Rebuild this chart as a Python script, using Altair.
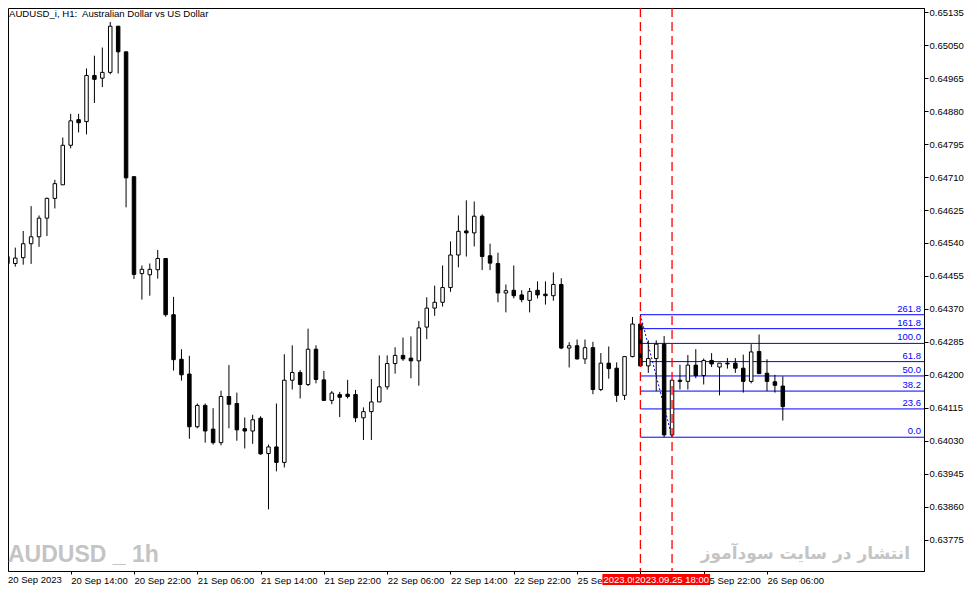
import json
import numpy as np
import pandas as pd
import altair as alt

# AUDUSD H1 candles, bar 0 = 20 Sep 2023 06:00
opens = [
    0.64505, 0.64487, 0.64502, 0.64538, 0.64556, 0.64604, 0.64655, 0.64690, 0.64792, 0.64858,
    0.64853, 0.64972, 0.64965, 0.64980, 0.65099, 0.65033, 0.64711, 0.64461, 0.64458, 0.64471,
    0.64500, 0.64355, 0.64240, 0.64202, 0.64066, 0.64121, 0.64060, 0.64025, 0.64144, 0.64126,
    0.64061, 0.64055, 0.64088, 0.63997, 0.64014, 0.63974, 0.64186, 0.64206, 0.64175, 0.64266,
    0.64187, 0.64134, 0.64149, 0.64150, 0.64149, 0.64089, 0.64105, 0.64130, 0.64169, 0.64229,
    0.64250, 0.64243, 0.64236, 0.64323, 0.64372, 0.64387, 0.64425, 0.64509, 0.64571, 0.64566,
    0.64609, 0.64507, 0.64487, 0.64411, 0.64418, 0.64406, 0.64392, 0.64418, 0.64408, 0.64404,
    0.64433, 0.64269, 0.64275, 0.64241, 0.64270, 0.64162, 0.64230, 0.64217, 0.64147, 0.64247,
    0.64331, 0.64223, 0.64242, 0.64279, 0.64045, 0.64186, 0.64183, 0.64225, 0.64198, 0.64237,
    0.64220, 0.64230, 0.64230, 0.64217, 0.64183, 0.64260, 0.64204, 0.64182, 0.64171,
]
highs = [
    0.64515, 0.64528, 0.64571, 0.64635, 0.64611, 0.64657, 0.64703, 0.64812, 0.64873, 0.64873,
    0.64990, 0.65023, 0.65044, 0.65110, 0.65100, 0.65033, 0.64711, 0.64482, 0.64487, 0.64522,
    0.64500, 0.64401, 0.64266, 0.64249, 0.64126, 0.64126, 0.64114, 0.64159, 0.64225, 0.64154,
    0.64090, 0.64097, 0.64093, 0.64020, 0.64126, 0.64253, 0.64276, 0.64212, 0.64319, 0.64276,
    0.64210, 0.64158, 0.64156, 0.64187, 0.64161, 0.64116, 0.64189, 0.64250, 0.64250, 0.64271,
    0.64296, 0.64299, 0.64339, 0.64400, 0.64430, 0.64482, 0.64544, 0.64611, 0.64650, 0.64647,
    0.64614, 0.64538, 0.64515, 0.64433, 0.64482, 0.64418, 0.64424, 0.64441, 0.64441, 0.64464,
    0.64449, 0.64284, 0.64291, 0.64291, 0.64285, 0.64256, 0.64273, 0.64232, 0.64247, 0.64349,
    0.64355, 0.64289, 0.64289, 0.64300, 0.64186, 0.64226, 0.64251, 0.64266, 0.64242, 0.64256,
    0.64230, 0.64243, 0.64243, 0.64252, 0.64279, 0.64304, 0.64240, 0.64200, 0.64196,
]
lows = [
    0.64479, 0.64479, 0.64484, 0.64486, 0.64530, 0.64558, 0.64629, 0.64690, 0.64784, 0.64825,
    0.64820, 0.64901, 0.64942, 0.64975, 0.64977, 0.64632, 0.64447, 0.64394, 0.64404, 0.64448,
    0.64350, 0.64211, 0.64185, 0.64035, 0.64062, 0.64025, 0.64020, 0.64018, 0.64062, 0.64030,
    0.64010, 0.64022, 0.63994, 0.63853, 0.63951, 0.63961, 0.64162, 0.64139, 0.64171, 0.64178,
    0.64134, 0.64124, 0.64091, 0.64139, 0.64078, 0.64032, 0.64032, 0.64130, 0.64162, 0.64203,
    0.64236, 0.64191, 0.64172, 0.64292, 0.64352, 0.64376, 0.64414, 0.64477, 0.64505, 0.64531,
    0.64470, 0.64470, 0.64387, 0.64361, 0.64397, 0.64387, 0.64361, 0.64397, 0.64381, 0.64391,
    0.64266, 0.64219, 0.64239, 0.64228, 0.64150, 0.64158, 0.64190, 0.64130, 0.64135, 0.64245,
    0.64222, 0.64205, 0.64158, 0.64039, 0.64040, 0.64162, 0.64162, 0.64191, 0.64175, 0.64220,
    0.64147, 0.64216, 0.64205, 0.64154, 0.64178, 0.64203, 0.64158, 0.64154, 0.64082,
]
closes = [
    0.64487, 0.64501, 0.64538, 0.64556, 0.64604, 0.64655, 0.64693, 0.64792, 0.64855, 0.64850,
    0.64972, 0.64962, 0.64980, 0.65099, 0.65033, 0.64708, 0.64459, 0.64472, 0.64472, 0.64500,
    0.64355, 0.64239, 0.64200, 0.64066, 0.64121, 0.64055, 0.64025, 0.64144, 0.64124, 0.64058,
    0.64055, 0.64084, 0.63996, 0.64014, 0.63974, 0.64186, 0.64206, 0.64175, 0.64266, 0.64188,
    0.64134, 0.64153, 0.64142, 0.64144, 0.64089, 0.64105, 0.64130, 0.64169, 0.64229, 0.64250,
    0.64241, 0.64236, 0.64321, 0.64372, 0.64387, 0.64425, 0.64509, 0.64570, 0.64566, 0.64609,
    0.64505, 0.64488, 0.64411, 0.64417, 0.64404, 0.64394, 0.64415, 0.64406, 0.64404, 0.64433,
    0.64269, 0.64275, 0.64241, 0.64270, 0.64162, 0.64230, 0.64216, 0.64147, 0.64247, 0.64331,
    0.64223, 0.64242, 0.64279, 0.64045, 0.64186, 0.64183, 0.64225, 0.64198, 0.64237, 0.64228,
    0.64230, 0.64228, 0.64217, 0.64183, 0.64259, 0.64203, 0.64183, 0.64173, 0.64118,
]

time_labels = ["20 Sep 2023", "20 Sep 14:00", "20 Sep 22:00", "21 Sep 06:00", "21 Sep 14:00",
               "21 Sep 22:00", "22 Sep 06:00", "22 Sep 14:00", "22 Sep 22:00", "25 Sep 06:00",
               "25 Sep 14:00", "25 Sep 22:00", "26 Sep 06:00"]
price_ticks = [0.65135, 0.65050, 0.64965, 0.64880, 0.64795, 0.64710, 0.64625, 0.64540, 0.64455,
               0.64370, 0.64285, 0.64200, 0.64115, 0.64030, 0.63945, 0.63860, 0.63775]

# fibonacci retracement drawn from bar 80 high to bar 84 low
fib_labels = ["0.0", "23.6", "38.2", "50.0", "61.8", "100.0", "161.8", "261.8"]
fib_prices = [0.64039, 0.64112, 0.64158, 0.64197, 0.64234, 0.64281, 0.64319, 0.64355]
fib_bars = [80, 84]
fib_ends = [0.64355, 0.64039]

# vertical time markers
marker_bars = [80, 84]
marker_labels = ["2023.09.25 14:00", "2023.09.25 18:00"]

W, H = 916, 563
FONT = "Liberation Sans"

candles = pd.DataFrame({"idx": range(len(opens)), "open": opens, "high": highs,
                        "low": lows, "close": closes})
candles["dir"] = np.where(candles["close"] >= candles["open"], "up", "down")

xs = alt.Scale(domain=[0.71, 115.21], nice=False, zero=False)
ys = alt.Scale(domain=[0.63694, 0.65146], nice=False, zero=False)
label_expr = json.dumps(time_labels) + "[round(datum.value / 8)]"
x_axis = alt.Axis(values=list(range(8, 97, 8)), labelExpr=label_expr, labelAlign="left",
                  labelFlush=False, labelOverlap=False, tickSize=3, labelPadding=1)
y_axis = alt.Axis(orient="right", values=price_ticks, format=".5f", tickSize=4,
                  labelPadding=1, labelFlush=False, labelOverlap=False)


def X(f):
    return alt.X(f"{f}:Q", scale=xs, axis=x_axis, title=None)


def Y(f):
    return alt.Y(f"{f}:Q", scale=ys, axis=y_axis, title=None)


base = alt.Chart(candles)
wicks = base.mark_rule(color="black", strokeWidth=1, clip=True).encode(
    x=X("idx"), y=Y("low"), y2="high:Q")
bodies = base.mark_bar(width=3.5, stroke="black", strokeWidth=1, clip=True).encode(
    x=X("idx"), y=Y("open"), y2="close:Q",
    fill=alt.Fill("dir:N", scale=alt.Scale(domain=["up", "down"], range=["white", "black"]),
                  legend=None))

fib = pd.DataFrame({"label": fib_labels, "price": fib_prices, "idx": fib_bars[0]})
fib_lines = alt.Chart(fib).mark_rule(color="#0000ff", strokeWidth=1).encode(
    x=X("idx"), x2=alt.value(W), y=Y("price"))
fib_text = alt.Chart(fib).mark_text(color="#0000ff", font=FONT, fontSize=9.5, align="right",
                                    baseline="bottom", dy=-1).encode(
    x=alt.value(W - 3), y=Y("price"), text="label:N")
diag = alt.Chart(pd.DataFrame({"idx": fib_bars, "price": fib_ends})).mark_line(
    color="#0000ff", strokeWidth=1, strokeDash=[2, 2]).encode(x=X("idx"), y=Y("price"))

markers = pd.DataFrame({"idx": marker_bars, "label": marker_labels})
vlines = alt.Chart(markers).mark_rule(color="#ff0000", strokeWidth=1.3, strokeDash=[9, 5]).encode(
    x=X("idx"), y=alt.value(0), y2=alt.value(H))

marker_layers = []
for b, t in zip(marker_bars, marker_labels):
    d = pd.DataFrame({"idx": [b], "label": [t]})
    marker_layers.append(alt.Chart(d).mark_rect(color="#ff0000", xOffset=-38, x2Offset=38).encode(
        x=X("idx"), x2="idx:Q", y=alt.value(H + 3), y2=alt.value(H + 15)))
    marker_layers.append(alt.Chart(d).mark_text(color="white", font=FONT, fontSize=9.5,
                                                baseline="middle").encode(
        x=X("idx"), y=alt.value(H + 9), text="label:N"))

first_label = alt.Chart(pd.DataFrame({"t": [time_labels[0]]})).mark_text(
    font=FONT, fontSize=9.5, align="left", baseline="top", color="black").encode(
    x=alt.value(0), y=alt.value(H + 4), text="t:N")

title = alt.Chart(pd.DataFrame({"t": ["AUDUSD_i, H1:\u00a0 Australian Dollar vs US Dollar"]})).mark_text(
    font=FONT, fontSize=9.6, align="left", baseline="top", color="black").encode(
    x=alt.value(1), y=alt.value(1), text="t:N")

wm_left = alt.Chart(pd.DataFrame({"t": ["AUDUSD _ 1h"]})).mark_text(
    font=FONT, fontSize=23, fontWeight="bold", align="left",
    baseline="alphabetic", color="#c4c4c4").encode(
    x=alt.value(0), y=alt.value(H - 9), text="t:N")
wm_right = alt.Chart(pd.DataFrame({"t": ["انتشار در سایت سودآموز"]})).mark_text(
    font="DejaVu Sans", fontSize=17, fontWeight="bold", align="right",
    baseline="alphabetic", color="#c4c4c4").encode(
    x=alt.value(902), y=alt.value(H - 12), text="t:N")

chart = alt.layer(
    wm_left, wm_right, fib_lines, diag, wicks, bodies, vlines, fib_text, title, first_label,
    *marker_layers
).properties(
    width=W, height=H, background="white",
    padding={"left": 0, "top": 0, "right": 44, "bottom": 14},
    autosize=alt.AutoSizeParams(type="none"),
).configure_view(stroke="black", strokeWidth=1).configure_axis(
    grid=False, labelFont=FONT, labelFontSize=9.5, labelColor="black",
    domainColor="black", tickColor="black", domainWidth=1, tickWidth=1,
)

chart.save("out.html", embed_options={"renderer": "svg", "actions": False})
